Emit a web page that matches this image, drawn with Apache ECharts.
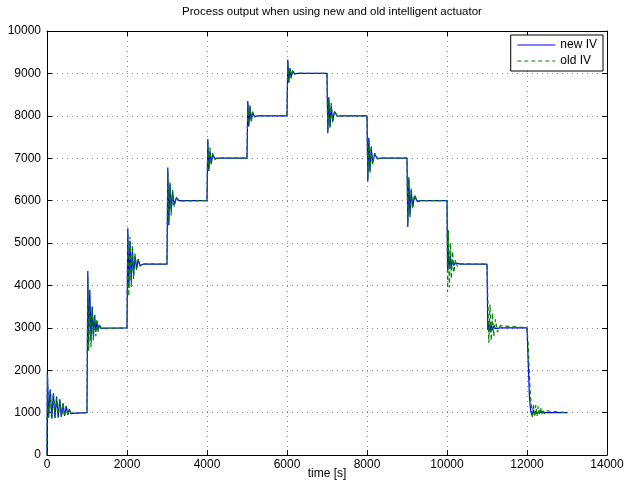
<!DOCTYPE html>
<html>
<head>
<meta charset="utf-8">
<script src="https://cdn.jsdelivr.net/npm/echarts@6/dist/echarts.min.js"></script>
<style>
  html, body { margin: 0; padding: 0; background: #fff; }
  #chart { width: 624px; height: 485px; }
</style>
</head>
<body>
<div id="chart"></div>
<script>
// Sample times [s], one row per setpoint step
const time = [
  0, 10, 40, 80, 120, 160, 200, 240, 280, 320, 360, 400, 440, 480, 520, 560, 600, 650,
  1000, 1020, 1040, 1070, 1100, 1130, 1160, 1190, 1220, 1250, 1280, 1310, 1350, 1400,
  2000, 2020, 2045, 2075, 2105, 2135, 2165, 2200, 2240, 2280, 2330, 2400,
  3000, 3020, 3045, 3075, 3105, 3140, 3180, 3230, 3300,
  4000, 4020, 4045, 4075, 4105, 4140, 4200, 4260,
  5000, 5020, 5045, 5075, 5105, 5140, 5190, 5260,
  6000, 6020, 6045, 6075, 6105, 6140, 6190, 6260,
  7000, 7020, 7045, 7075, 7105, 7140, 7190, 7260, 7330,
  8000, 8020, 8045, 8075, 8105, 8140, 8190, 8260, 8330,
  9000, 9020, 9045, 9075, 9105, 9140, 9190, 9260, 9330,
  10000, 10015, 10035, 10060, 10085, 10110, 10140, 10170, 10210, 10260, 10330,
  11000, 11020, 11045, 11075, 11105, 11135, 11170, 11210, 11260, 11330,
  12000, 12030, 12060, 12080, 12100, 12130, 12160, 12190, 12220, 12250, 12280, 12310, 12340, 12370, 12400, 12440, 12480, 12520, 13000
];

// Process output with the new intelligent actuator
const newIV = [
  0, 1980, 880, 1550, 870, 1450, 880, 1380, 890, 1300, 900, 1220, 920, 1150, 950, 1080, 980, 1010,
  1000, 4340, 2600, 3900, 2700, 3500, 2800, 3300, 2900, 3150, 2950, 3060, 2990, 3000,
  3000, 5350, 3950, 5050, 4100, 4850, 4250, 4700, 4400, 4600, 4470, 4500,
  4500, 6780, 5420, 6380, 5750, 6200, 5900, 6060, 6000,
  6000, 7450, 6700, 7180, 6880, 7080, 6990, 7000,
  7000, 8350, 7750, 8220, 7880, 8080, 7980, 8000,
  8000, 9330, 8780, 9120, 8900, 9060, 8990, 9000,
  9000, 7590, 8440, 7750, 8250, 7880, 8100, 7990, 8000,
  8000, 6450, 7480, 6700, 7250, 6880, 7100, 6990, 7000,
  7000, 5380, 6520, 5650, 6250, 5850, 6100, 5980, 6000,
  6000, 4350, 4880, 4380, 4700, 4430, 4600, 4470, 4530, 4495, 4500,
  4500, 2950, 3150, 2900, 3080, 2950, 3040, 2980, 3010, 3000,
  3000, 2200, 1400, 1150, 1000, 930, 1060, 950, 1040, 970, 1020, 990, 1005, 1000, 1000, 1000, 1000, 1000, 1000
];

// Process output with the old intelligent actuator
const oldIV = [
  0, 1900, 900, 1500, 860, 1480, 870, 1350, 880, 1320, 890, 1240, 910, 1160, 940, 1090, 970, 1015,
  1000, 4200, 2450, 3650, 2550, 3450, 2700, 3300, 2800, 3200, 2900, 3100, 2980, 3000,
  3000, 5250, 3750, 5150, 3950, 4950, 4150, 4750, 4350, 4620, 4450, 4510,
  4500, 6700, 5500, 6450, 5650, 6250, 5850, 6080, 5990,
  6000, 7400, 6750, 7250, 6850, 7120, 6970, 7005,
  7000, 8300, 7800, 8250, 7850, 8100, 7970, 8005,
  8000, 9280, 8800, 9150, 8880, 9080, 8980, 9005,
  9000, 7650, 8380, 7700, 8300, 7850, 8120, 7980, 8000,
  8000, 6500, 7400, 6650, 7300, 6850, 7120, 6980, 7000,
  7000, 5450, 6560, 5600, 6300, 5800, 6150, 5970, 6000,
  6000, 3850, 5300, 3950, 5000, 4150, 4800, 4300, 4600, 4450, 4510,
  4500, 3700, 2650, 3550, 2700, 3350, 2800, 3200, 2900, 3050,
  3000, 2600, 1900, 1500, 1250, 880, 1200, 900, 1180, 920, 1150, 930, 1120, 950, 1080, 970, 1040, 1000, 1000
];

const seriesNames = ['new IV', 'old IV'];

const pairs = (ys) => time.map((t, i) => [t, ys[i]]);

const font = 'Liberation Sans, Arial, Helvetica, sans-serif';
const plain = (v) => String(v);
const newStyle = { color: '#0000ff', width: 1.2 };
const oldStyle = { color: '#008000', width: 1.2, type: [4, 3] };
const gridDots = { show: true, lineStyle: { color: '#8a8a8a', type: [1, 4], width: 1 } };
const frame = { show: true, onZero: false, lineStyle: { color: '#000', width: 1 } };
const inTicks = { show: true, inside: true, length: 5, lineStyle: { color: '#000' } };
const tickText = { fontFamily: font, fontSize: 12, color: '#000' };

const chart = echarts.init(document.getElementById('chart'), null, { renderer: 'canvas' });
chart.setOption({
  animation: false,
  backgroundColor: '#fff',
  title: {
    text: 'Process output when using new and old intelligent actuator',
    left: 327, top: 1, textAlign: 'center',
    textStyle: { fontFamily: font, fontSize: 11.5, fontWeight: 'normal', color: '#000' }
  },
  legend: {
    data: [
      { name: seriesNames[0], lineStyle: newStyle },
      { name: seriesNames[1], lineStyle: oldStyle }
    ],
    orient: 'vertical',
    right: 21, top: 35,
    itemWidth: 38, itemHeight: 10, itemGap: 4,
    padding: [4, 6, 4, 6],
    backgroundColor: '#fff',
    borderColor: '#000', borderWidth: 1, borderRadius: 0,
    itemStyle: { opacity: 0 },
    textStyle: { fontFamily: font, fontSize: 12, color: '#000' }
  },
  grid: { left: 47, right: 17, top: 31, bottom: 30, containLabel: false, outerBoundsMode: 'none' },
  xAxis: [
    {
      type: 'value', min: 0, max: 14000, interval: 2000,
      name: 'time [s]', nameLocation: 'middle', nameGap: 13, nameMoveOverlap: false,
      nameTextStyle: { fontFamily: font, fontSize: 12, color: '#000' },
      axisLine: frame, axisTick: inTicks, splitLine: gridDots,
      axisLabel: Object.assign({ margin: 4, formatter: plain }, tickText)
    },
    {
      type: 'value', position: 'top', min: 0, max: 14000, interval: 2000,
      axisLine: frame, axisTick: inTicks, splitLine: { show: false },
      axisLabel: { show: false }
    }
  ],
  yAxis: [
    {
      type: 'value', min: 0, max: 10000, interval: 1000,
      axisLine: frame, axisTick: inTicks, splitLine: gridDots,
      axisLabel: Object.assign({ margin: 6, formatter: plain }, tickText)
    },
    {
      type: 'value', position: 'right', min: 0, max: 10000, interval: 1000,
      axisLine: frame, axisTick: inTicks, splitLine: { show: false },
      axisLabel: { show: false }
    }
  ],
  series: [
    {
      name: seriesNames[0], type: 'line', data: pairs(newIV),
      showSymbol: false, symbol: 'none',
      lineStyle: newStyle, itemStyle: { color: newStyle.color }
    },
    {
      name: seriesNames[1], type: 'line', data: pairs(oldIV),
      showSymbol: false, symbol: 'none',
      lineStyle: oldStyle, itemStyle: { color: oldStyle.color }
    }
  ]
});
</script>
</body>
</html>
